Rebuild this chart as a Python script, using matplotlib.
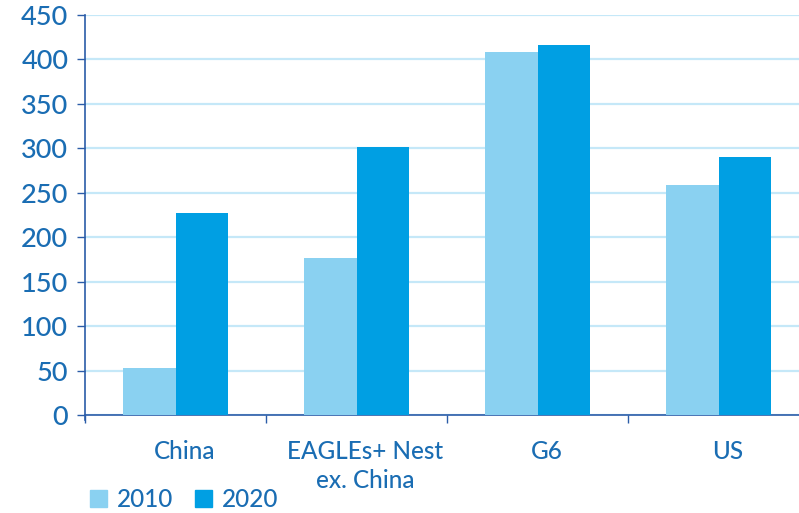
import matplotlib
matplotlib.use("Agg")
import matplotlib.pyplot as plt
import matplotlib.transforms as mtransforms
from matplotlib.patches import Patch
import numpy as np

# Values
categories = ["China", "EAGLEs+ Nest\nex. China", "G6", "US"]
values_2010 = [53, 177, 408, 259]
values_2020 = [227, 302, 416, 290]
series_labels = ["2010", "2020"]
y_ticks = [0, 50, 100, 150, 200, 250, 300, 350, 400, 450]

light_blue = "#8ad1f1"
dark_blue = "#009fe3"
text_blue = "#1a6db3"
axis_blue = "#2b5ca8"
grid_blue = "#c5e8f8"

plt.rcParams["font.family"] = ["Lato", "DejaVu Sans"]
plt.rcParams["font.weight"] = "medium"

fig = plt.figure(figsize=(7.99, 5.13), dpi=100)
ax = fig.add_axes([85 / 799, 98 / 513, 724 / 799, 400 / 513])

x = np.arange(len(categories))
w = 0.29
ax.bar(x - w / 2, values_2010, width=w, color=light_blue, zorder=3)
ax.bar(x + w / 2, values_2020, width=w, color=dark_blue, zorder=3)

ax.set_xlim(-0.5, len(categories) - 0.5)
ax.set_ylim(0, 450)
ax.set_yticks(y_ticks)
ax.grid(axis="y", color=grid_blue, linewidth=1.6, zorder=0)

for s in ["top", "right"]:
    ax.spines[s].set_visible(False)
for s in ["left", "bottom"]:
    ax.spines[s].set_color(axis_blue)
    ax.spines[s].set_linewidth(1.2)
ax.spines["left"].set_bounds(-6, 450)

ax.tick_params(axis="y", colors=axis_blue, labelcolor=text_blue, labelsize=19.5,
               length=6, width=1, pad=6)

# category labels at centres, boundary tick marks as minor ticks
ax.set_xticks(x)
ax.set_xticklabels(categories, fontsize=17.5, color=text_blue, linespacing=1.3)
ax.set_xticks(np.arange(len(categories) + 1) - 0.5, minor=True)
ax.tick_params(axis="x", which="major", length=0, pad=18)
ax.tick_params(axis="x", which="minor", length=6, width=1, colors=axis_blue)
shift = mtransforms.ScaledTranslation(9 / 100, 0, fig.dpi_scale_trans)
for lbl in ax.get_xticklabels():
    lbl.set_transform(lbl.get_transform() + shift)

handles = [Patch(color=light_blue), Patch(color=dark_blue)]
fig.legend(handles, series_labels, loc="lower left", bbox_to_anchor=(68 / 799, -20 / 513),
           ncol=2, frameon=False, fontsize=17.5, labelcolor=text_blue,
           handlelength=0.7, handleheight=0.7, handletextpad=0.4, columnspacing=0.9)

fig.savefig("out.png", dpi=100)
